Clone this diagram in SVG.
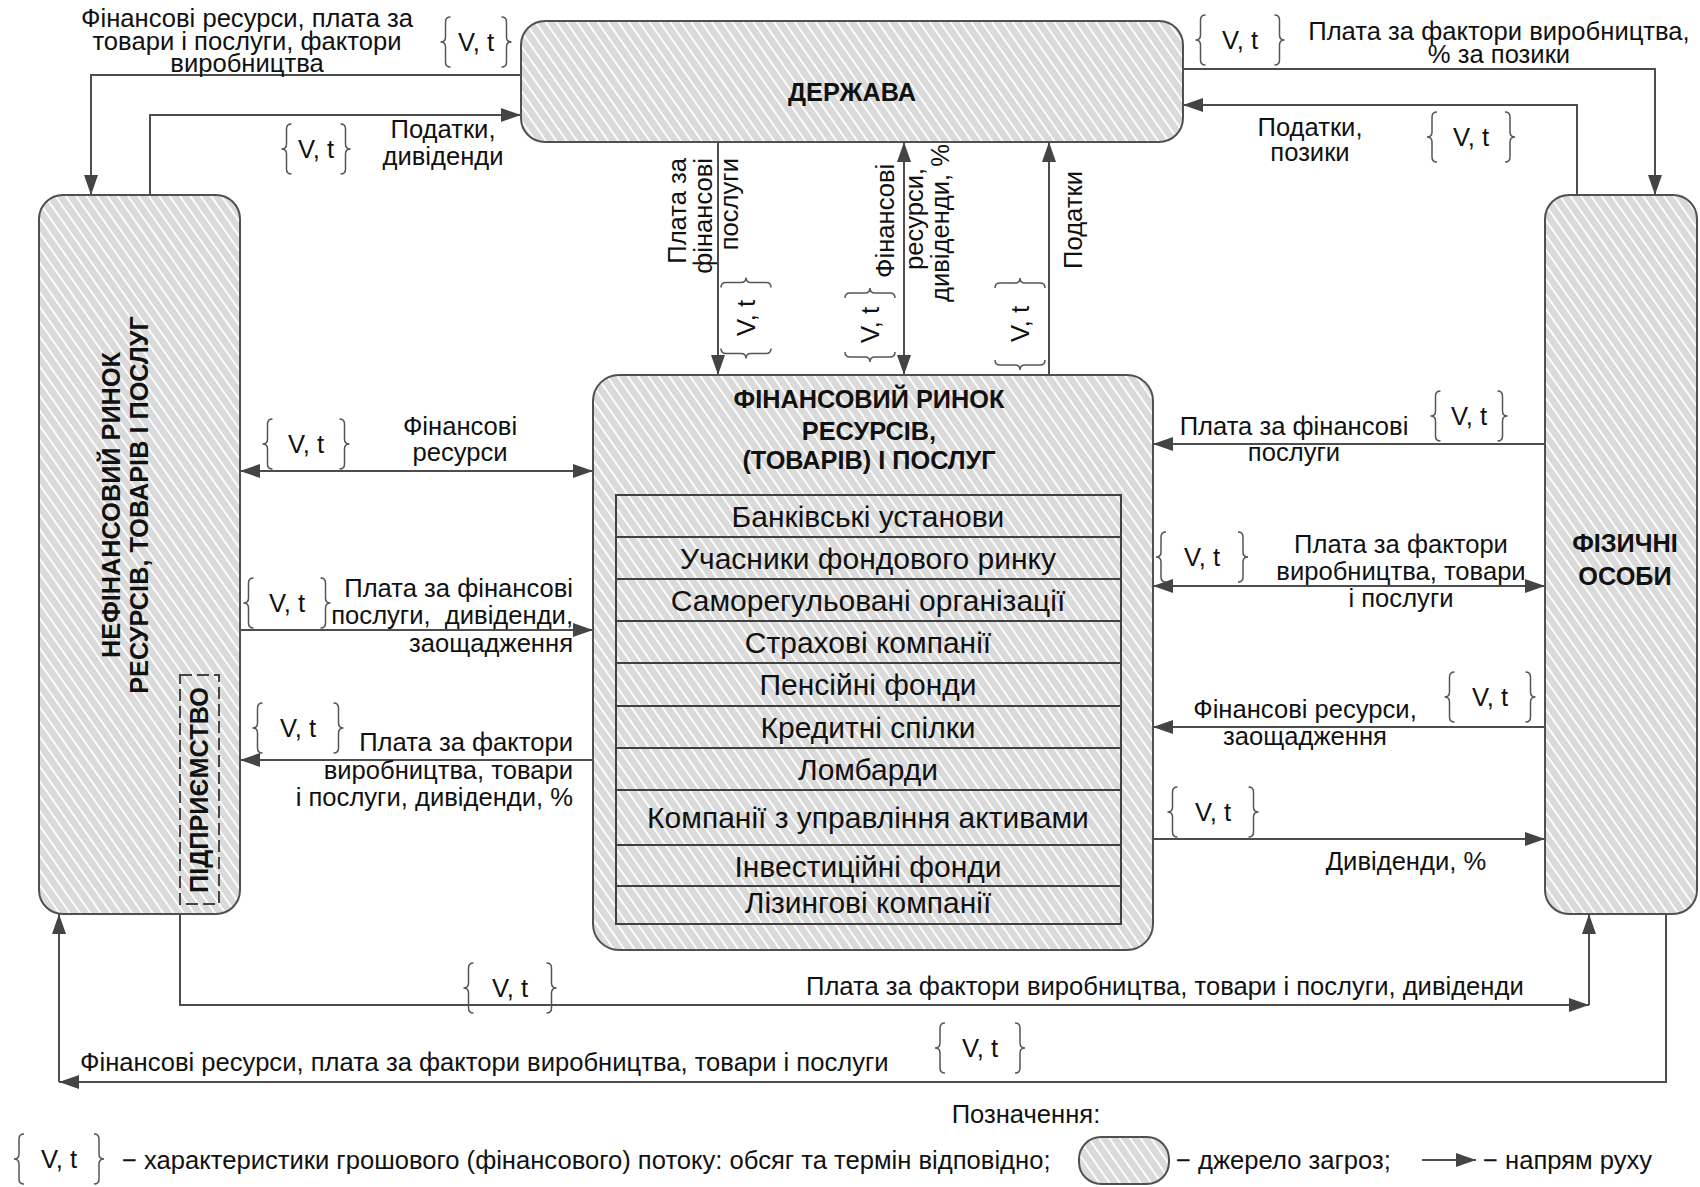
<svg xmlns="http://www.w3.org/2000/svg" width="1700" height="1187" viewBox="0 0 1700 1187">
<defs>
<style>
text{font-family:"Liberation Sans",Arial,sans-serif;fill:#111;}
.lbl{font-size:25.6px;}
.ttl{font-size:25.3px;font-weight:bold;}
.row{font-size:30px;}
.mid{text-anchor:middle;}
.end{text-anchor:end;}
.box{fill:url(#hatch);stroke:#505050;stroke-width:2;}
.cell{fill:none;stroke:#404040;stroke-width:2;}
.ln{fill:none;stroke:#4d4d4d;stroke-width:2;}
.arr{marker-end:url(#ah);}
.bi{marker-start:url(#ahs);marker-end:url(#ah);}
</style>
<pattern id="hatch" patternUnits="userSpaceOnUse" width="8.5" height="8.5" patternTransform="rotate(-35)">
<rect width="8.5" height="8.5" fill="#dadada"/>
<rect width="1.8" height="8.5" fill="#ffffff"/>
</pattern>
<marker id="ah" viewBox="0 0 20 14" refX="20" refY="7" markerWidth="20" markerHeight="14" markerUnits="userSpaceOnUse" orient="auto"><path d="M0,0L20,7L0,14Z" fill="#444"/></marker>
<marker id="ahs" viewBox="0 0 20 14" refX="20" refY="7" markerWidth="20" markerHeight="14" markerUnits="userSpaceOnUse" orient="auto-start-reverse"><path d="M0,0L20,7L0,14Z" fill="#444"/></marker>
<!-- curly braces used around the "V, t" flow tags -->
<path id="bl" fill="none" stroke="#555" stroke-width="1.5" d="M7,-25Q2,-25 2,-20V-5Q2,0 -3,0Q2,0 2,5V20Q2,25 7,25"/>
<path id="bR" fill="none" stroke="#555" stroke-width="1.5" d="M-7,-25Q-2,-25 -2,-20V-5Q-2,0 3,0Q-2,0 -2,5V20Q-2,25 -7,25"/>
</defs>

<rect width="1700" height="1187" fill="#fff"/>

<!-- flows between the sectors -->
<g id="connectors">
  <!-- state -> non-financial market -->
  <path class="ln arr" d="M521,75H91V195"/>
  <text class="lbl mid" x="247" y="27">Фінансові ресурси, плата за</text>
  <text class="lbl mid" x="247" y="50">товари і послуги, фактори</text>
  <text class="lbl mid" x="247" y="72">виробництва</text>
  <g transform="translate(476,42)"><use href="#bl" x="-32.5"/><text class="lbl mid" y="9">V, t</text><use href="#bR" x="32.5"/></g>

  <!-- non-financial market -> state -->
  <path class="ln arr" d="M150,195V115H521"/>
  <text class="lbl mid" x="443" y="138">Податки,</text>
  <text class="lbl mid" x="443" y="165">дивіденди</text>
  <g transform="translate(316,149)"><use href="#bl" x="-31.5"/><text class="lbl mid" y="9">V, t</text><use href="#bR" x="31.5"/></g>

  <!-- state -> individuals -->
  <path class="ln arr" d="M1183,69H1655V195"/>
  <text class="lbl mid" x="1499" y="40">Плата за фактори виробництва,</text>
  <text class="lbl mid" x="1499" y="63">% за позики</text>
  <g transform="translate(1240,40)"><use href="#bl" x="-41.5"/><text class="lbl mid" y="9">V, t</text><use href="#bR" x="41.5"/></g>

  <!-- individuals -> state -->
  <path class="ln arr" d="M1577,195V105H1183"/>
  <text class="lbl mid" x="1310" y="136">Податки,</text>
  <text class="lbl mid" x="1310" y="161">позики</text>
  <g transform="translate(1471,137)"><use href="#bl" x="-41"/><text class="lbl mid" y="9">V, t</text><use href="#bR" x="41"/></g>

  <!-- state <-> financial market -->
  <path class="ln arr" d="M718,142V375"/>
  <text class="lbl end" transform="translate(677,158) rotate(-90)" y="9">Плата за</text>
  <text class="lbl end" transform="translate(703,158) rotate(-90)" y="9">фінансові</text>
  <text class="lbl end" transform="translate(729,158) rotate(-90)" y="9">послуги</text>
  <g transform="translate(746,318) rotate(-90)"><use href="#bl" x="-37.5"/><text class="lbl mid" y="9">V, t</text><use href="#bR" x="37.5"/></g>

  <path class="ln bi" d="M904,375V142"/>
  <text class="lbl" transform="translate(885,278) rotate(-90)" y="9">Фінансові</text>
  <text class="lbl" transform="translate(914,270) rotate(-90)" y="9">ресурси,</text>
  <text class="lbl" transform="translate(940,302) rotate(-90)" y="9">дивіденди, %</text>
  <g transform="translate(870,325) rotate(-90)"><use href="#bl" x="-34"/><text class="lbl mid" y="9">V, t</text><use href="#bR" x="34"/></g>

  <path class="ln arr" d="M1049,375V142"/>
  <text class="lbl mid" transform="translate(1073,220) rotate(-90)" y="9">Податки</text>
  <g transform="translate(1020,324) rotate(-90)"><use href="#bl" x="-43"/><text class="lbl mid" y="9">V, t</text><use href="#bR" x="43"/></g>

  <!-- non-financial market <-> financial market -->
  <path class="ln bi" d="M240,471H593"/>
  <text class="lbl mid" x="460" y="435">Фінансові</text>
  <text class="lbl mid" x="460" y="461">ресурси</text>
  <g transform="translate(306,444)"><use href="#bl" x="-40.5"/><text class="lbl mid" y="9">V, t</text><use href="#bR" x="40.5"/></g>

  <path class="ln arr" d="M240,630H593"/>
  <text class="lbl end" x="573" y="597">Плата за фінансові</text>
  <text class="lbl end" x="573" y="624" xml:space="preserve">послуги,  дивіденди,</text>
  <text class="lbl end" x="573" y="652">заощадження</text>
  <g transform="translate(287,603)"><use href="#bl" x="-40.5"/><text class="lbl mid" y="9">V, t</text><use href="#bR" x="40.5"/></g>

  <path class="ln arr" d="M593,760H240"/>
  <text class="lbl end" x="573" y="751">Плата за фактори</text>
  <text class="lbl end" x="573" y="779">виробництва, товари</text>
  <text class="lbl end" x="573" y="806">і послуги, дивіденди, %</text>
  <g transform="translate(298,728)"><use href="#bl" x="-42.5"/><text class="lbl mid" y="9">V, t</text><use href="#bR" x="42.5"/></g>

  <!-- individuals <-> financial market -->
  <path class="ln arr" d="M1545,444H1153"/>
  <text class="lbl mid" x="1294" y="435">Плата за фінансові</text>
  <text class="lbl mid" x="1294" y="461">послуги</text>
  <g transform="translate(1469,416)"><use href="#bl" x="-35.5"/><text class="lbl mid" y="9">V, t</text><use href="#bR" x="35.5"/></g>

  <path class="ln bi" d="M1153,586H1545"/>
  <text class="lbl mid" x="1401" y="553">Плата за фактори</text>
  <text class="lbl mid" x="1401" y="580">виробництва, товари</text>
  <text class="lbl mid" x="1401" y="607">і послуги</text>
  <g transform="translate(1202,557)"><use href="#bl" x="-43"/><text class="lbl mid" y="9">V, t</text><use href="#bR" x="43"/></g>

  <path class="ln arr" d="M1545,727H1153"/>
  <text class="lbl mid" x="1305" y="718">Фінансові ресурси,</text>
  <text class="lbl mid" x="1305" y="745">заощадження</text>
  <g transform="translate(1490,697)"><use href="#bl" x="-42.5"/><text class="lbl mid" y="9">V, t</text><use href="#bR" x="42.5"/></g>

  <path class="ln arr" d="M1153,839H1545"/>
  <text class="lbl mid" x="1406" y="870">Дивіденди, %</text>
  <g transform="translate(1213,812)"><use href="#bl" x="-42.5"/><text class="lbl mid" y="9">V, t</text><use href="#bR" x="42.5"/></g>

  <!-- enterprise -> individuals (bottom loop) -->
  <path class="ln arr" d="M180,914V1005H1589"/>
  <path class="ln arr" d="M1589,1005V914"/>
  <text class="lbl" x="806" y="995">Плата за фактори виробництва, товари і послуги, дивіденди</text>
  <g transform="translate(510,988)"><use href="#bl" x="-43.5"/><text class="lbl mid" y="9">V, t</text><use href="#bR" x="43.5"/></g>

  <!-- individuals -> non-financial market (outer loop) -->
  <path class="ln arr" d="M1666,914V1082H59"/>
  <path class="ln arr" d="M59,1082V914"/>
  <text class="lbl" x="80" y="1071">Фінансові ресурси, плата за фактори виробництва, товари і послуги</text>
  <g transform="translate(980,1048)"><use href="#bl" x="-42"/><text class="lbl mid" y="9">V, t</text><use href="#bR" x="42"/></g>
</g>

<g id="node-state">
  <rect class="box" x="521" y="21" width="662" height="121" rx="24"/>
  <text class="ttl mid" x="852" y="101">ДЕРЖАВА</text>
</g>

<g id="node-nonfinancial-market">
  <rect class="box" x="39" y="195" width="201" height="719" rx="24"/>
  <text class="ttl mid" transform="translate(111,505) rotate(-90)" y="9">НЕФІНАНСОВИЙ РИНОК</text>
  <text class="ttl mid" transform="translate(139,505) rotate(-90)" y="9">РЕСУРСІВ, ТОВАРІВ І ПОСЛУГ</text>
  <g id="node-enterprise">
    <rect x="180" y="675" width="39" height="229" fill="none" stroke="#444" stroke-width="2" stroke-dasharray="12 5"/>
    <text class="ttl mid" transform="translate(199,790) rotate(-90)" y="9">ПІДПРИЄМСТВО</text>
  </g>
</g>

<g id="node-individuals">
  <rect class="box" x="1545" y="195" width="152" height="719" rx="24"/>
  <text class="ttl mid" x="1625" y="552">ФІЗИЧНІ</text>
  <text class="ttl mid" x="1625" y="585">ОСОБИ</text>
</g>

<g id="node-financial-market">
  <rect class="box" x="593" y="375" width="560" height="575" rx="26"/>
  <text class="ttl mid" x="869" y="408">ФІНАНСОВИЙ РИНОК</text>
  <text class="ttl mid" x="869" y="440">РЕСУРСІВ,</text>
  <text class="ttl mid" x="869" y="469">(ТОВАРІВ) І ПОСЛУГ</text>
  <g id="institutions">
    <rect class="cell" x="616" y="495" width="505" height="42"/>
    <rect class="cell" x="616" y="537" width="505" height="42"/>
    <rect class="cell" x="616" y="579" width="505" height="42"/>
    <rect class="cell" x="616" y="621" width="505" height="42"/>
    <rect class="cell" x="616" y="663" width="505" height="43"/>
    <rect class="cell" x="616" y="706" width="505" height="42"/>
    <rect class="cell" x="616" y="748" width="505" height="42"/>
    <rect class="cell" x="616" y="790" width="505" height="55"/>
    <rect class="cell" x="616" y="845" width="505" height="41"/>
    <rect class="cell" x="616" y="886" width="505" height="38"/>
    <text class="row mid" x="868" y="527">Банківські установи</text>
    <text class="row mid" x="868" y="569">Учасники фондового ринку</text>
    <text class="row mid" x="868" y="611">Саморегульовані організації</text>
    <text class="row mid" x="868" y="653">Страхові компанії</text>
    <text class="row mid" x="868" y="695">Пенсійні фонди</text>
    <text class="row mid" x="868" y="738">Кредитні спілки</text>
    <text class="row mid" x="868" y="780">Ломбарди</text>
    <text class="row mid" x="868" y="828">Компанії з управління активами</text>
    <text class="row mid" x="868" y="877">Інвестиційні фонди</text>
    <text class="row mid" x="868" y="913">Лізингові компанії</text>
  </g>
</g>

<!-- key -->
<g id="legend">
  <text class="lbl mid" x="1026" y="1123">Позначення:</text>
  <g transform="translate(59,1159)"><use href="#bl" x="-42"/><text class="lbl mid" y="9">V, t</text><use href="#bR" x="42"/></g>
  <text class="lbl" x="122" y="1169">− характеристики грошового (фінансового) потоку: обсяг та термін відповідно;</text>
  <rect class="box" x="1079" y="1137" width="90" height="47" rx="22"/>
  <text class="lbl" x="1176" y="1169">− джерело загроз;</text>
  <path class="ln arr" d="M1422,1160H1476"/>
  <text class="lbl" x="1483" y="1169">− напрям руху</text>
</g>
</svg>
